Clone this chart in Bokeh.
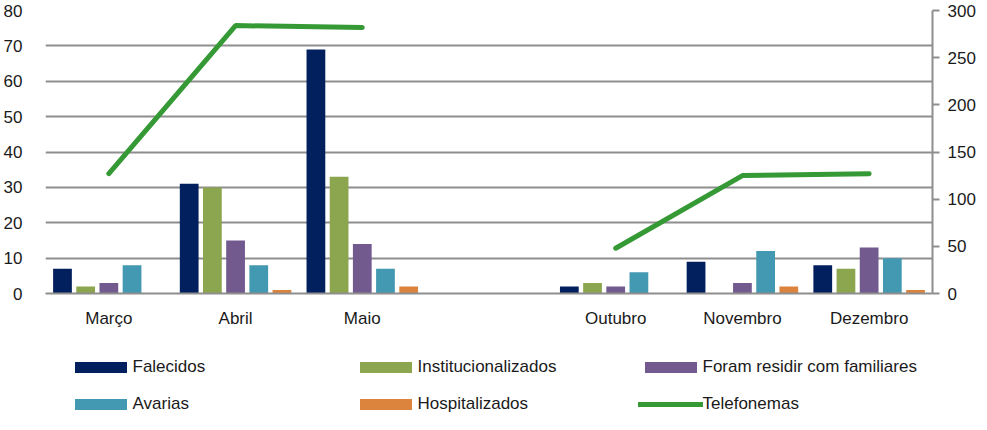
import numpy as np
from bokeh.plotting import figure
from bokeh.layouts import column
from bokeh.models import (ColumnDataSource, FactorRange, Range1d, LinearAxis,
                          Legend, LegendItem, SingleIntervalTicker)
from bokeh.transform import dodge
from bokeh.embed import file_html
from bokeh.resources import INLINE

nan = np.nan
meses = ["Março", "Abril", "Maio", " ", "Outubro", "Novembro", "Dezembro"]
falecidos = [7, 31, 69, nan, 2, 9, 8]
institucionalizados = [2, 30, 33, nan, 3, 0, 7]
foram_residir = [3, 15, 14, nan, 2, 3, 13]
avarias = [8, 8, 7, nan, 6, 12, 10]
hospitalizados = [0, 1, 2, nan, 0, 2, 1]
telefonemas = [127, 284, 282, nan, 48, 125, 127]

series = [
    ("Falecidos", "falecidos", "#03205E"),
    ("Institucionalizados", "institucionalizados", "#8BA64E"),
    ("Foram residir com familiares", "foram_residir", "#725A8F"),
    ("Avarias", "avarias", "#4399B1"),
    ("Hospitalizados", "hospitalizados", "#DC843E"),
]
LINE_COLOR = "#359A35"

source = ColumnDataSource(dict(
    mes=meses, falecidos=falecidos, institucionalizados=institucionalizados,
    foram_residir=foram_residir, avarias=avarias, hospitalizados=hospitalizados,
    telefonemas=telefonemas))

FONT = "Liberation Sans"
FS = "17px"
TXT = "#1A1A1A"
GRID = "#8E8E8E"
offsets = [-0.366, -0.183, 0.0, 0.183, 0.366]

p = figure(x_range=FactorRange(*meses), y_range=Range1d(0, 80),
           frame_width=887, frame_height=283,
           min_border_left=41, min_border_right=43, min_border_top=10,
           min_border_bottom=47, output_backend="svg", toolbar_location=None)
p.outline_line_color = None
p.extra_y_ranges = {"tel": Range1d(0, 300)}

for (label, col, color), off in zip(series, offsets):
    p.vbar(x=dodge("mes", off, range=p.x_range), top=col, width=0.148,
           source=source, fill_color=color, line_color=None)

p.line(x="mes", y="telefonemas", source=source, y_range_name="tel",
       line_color=LINE_COLOR, line_width=5, line_cap="round")

# grid
p.xgrid.grid_line_color = None
p.ygrid.grid_line_color = GRID
p.ygrid.grid_line_width = 1.8
p.yaxis.ticker = SingleIntervalTicker(interval=10)

# left axis
ya = p.yaxis[0]
ya.axis_line_color = None
ya.major_tick_line_color = None
ya.minor_tick_line_color = None
ya.major_tick_in = 0
ya.major_tick_out = 0
ya.major_label_standoff = 19
ya.major_label_text_font = FONT
ya.major_label_text_font_size = FS
ya.major_label_text_color = TXT

# right axis
ra = LinearAxis(y_range_name="tel", ticker=SingleIntervalTicker(interval=50))
ra.axis_line_color = GRID
ra.axis_line_width = 2
ra.major_tick_line_color = GRID
ra.major_tick_line_width = 2
ra.major_tick_in = 0
ra.major_tick_out = 7
ra.minor_tick_line_color = None
ra.major_label_standoff = 8
ra.major_label_text_font = FONT
ra.major_label_text_font_size = FS
ra.major_label_text_color = TXT
p.add_layout(ra, "right")

# bottom axis
xa = p.xaxis[0]
xa.axis_line_color = GRID
xa.axis_line_width = 2
xa.major_tick_line_color = None
xa.minor_tick_line_color = None
xa.major_tick_in = 0
xa.major_tick_out = 0
xa.major_label_standoff = 15
xa.major_label_text_font = FONT
xa.major_label_text_font_size = FS
xa.major_label_text_color = TXT

# legend strip: same series drawn against a range where they fall out of view,
# so only their legend glyphs show
pl = figure(x_range=FactorRange(*meses), y_range=Range1d(1000, 1001),
            frame_width=887, frame_height=74,
            x_axis_location=None, y_axis_location=None,
            min_border_left=41, min_border_right=43, min_border_top=0,
            min_border_bottom=0, output_backend="svg", toolbar_location=None)
pl.outline_line_color = None
pl.grid.visible = False
items = []
for (label, col, color), off in zip(series, offsets):
    r = pl.vbar(x=dodge("mes", off, range=pl.x_range), top=col, width=0.148,
                source=source, fill_color=color, line_color=None)
    items.append(LegendItem(label=label, renderers=[r]))
rl = pl.line(x="mes", y="telefonemas", source=source, line_color=LINE_COLOR,
             line_width=5, line_cap="round")
items.append(LegendItem(label="Telefonemas", renderers=[rl]))

legend = Legend(items=items, orientation="horizontal", ncols=3,
                location=(22.5, 0),
                glyph_width=65, glyph_height=14, label_standoff=0,
                label_width=203, label_height=20, spacing=17, padding=0, margin=0,
                border_line_color=None, background_fill_alpha=0,
                label_text_font=FONT, label_text_font_size=FS,
                label_text_color=TXT)
pl.add_layout(legend)

layout = column(p, pl, spacing=0)
open("out.html", "w").write(file_html(layout, INLINE))
